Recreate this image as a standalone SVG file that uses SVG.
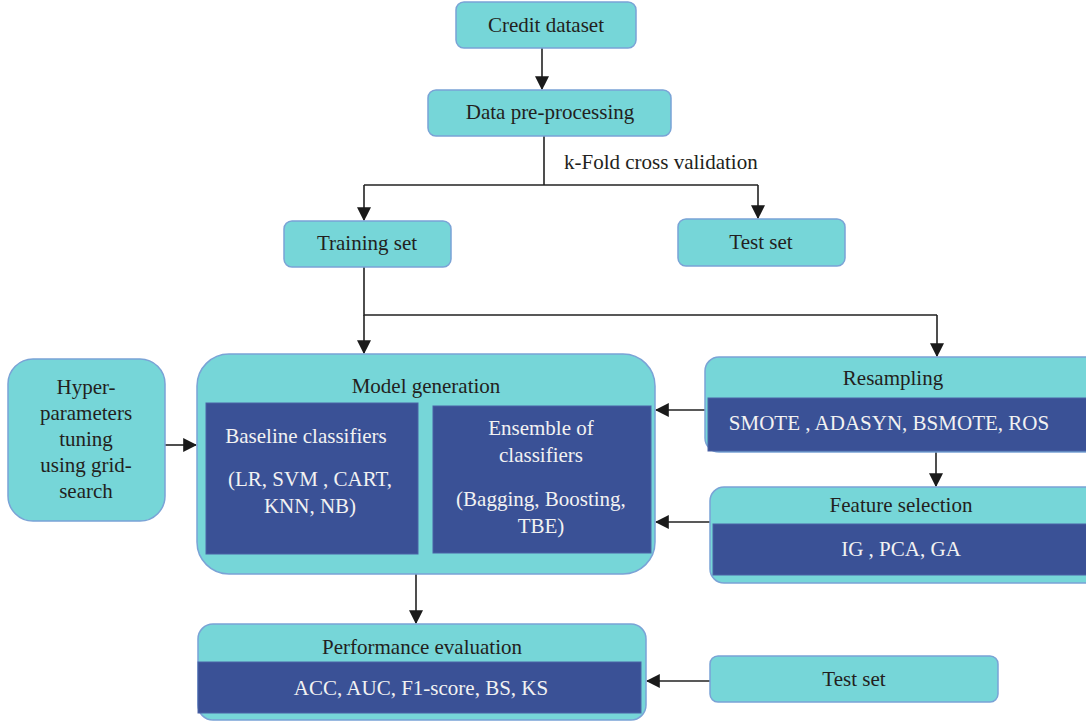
<svg xmlns="http://www.w3.org/2000/svg" width="1086" height="721" viewBox="0 0 1086 721">
<style>
.box{fill:#76d6d8;stroke:#7aa3d6;stroke-width:1.5}
.dark{fill:#3a5196;stroke:#4a62a6;stroke-width:1}
.t{font-family:"Liberation Serif","Times New Roman",serif;font-size:21px;fill:#231f20;text-anchor:middle}
.w{font-family:"Liberation Serif","Times New Roman",serif;font-size:21px;fill:#f2f2f2;text-anchor:middle}
.c{fill:none;stroke:#222;stroke-width:1.6}
</style>
<defs>
<marker id="ah" markerUnits="userSpaceOnUse" markerWidth="14" markerHeight="14" viewBox="0 0 12 12" refX="11" refY="6" orient="auto">
<path d="M0 0 L12 6 L0 12 Z" fill="#1a1a1a"/>
</marker>
</defs>
<rect width="1086" height="721" fill="#fff"/>
<g id="connectors">
<path class="c" d="M542 48 V89" marker-end="url(#ah)"/>
<path class="c" d="M544 136 V185"/>
<path class="c" d="M364 185 H758"/>
<path class="c" d="M364 185 V220" marker-end="url(#ah)"/>
<path class="c" d="M758 185 V218" marker-end="url(#ah)"/>
<path class="c" d="M364 267 V315 H937"/>
<path class="c" d="M364 315 V353" marker-end="url(#ah)"/>
<path class="c" d="M937 315 V356" marker-end="url(#ah)"/>
<path class="c" d="M165 445 H196" marker-end="url(#ah)"/>
<path class="c" d="M706 410 H656" marker-end="url(#ah)"/>
<path class="c" d="M936 452 V486" marker-end="url(#ah)"/>
<path class="c" d="M710 522 H656" marker-end="url(#ah)"/>
<path class="c" d="M416 574 V623" marker-end="url(#ah)"/>
<path class="c" d="M710 681 H647" marker-end="url(#ah)"/>
</g>
<g id="credit-dataset">
<rect class="box" x="456" y="2" width="180" height="46" rx="8"/>
<text class="t" x="546" y="32">Credit dataset</text>
</g>
<g id="data-preprocessing">
<rect class="box" x="428" y="90" width="243" height="46" rx="8"/>
<text class="t" x="550" y="119">Data pre-processing</text>
</g>
<g id="kfold-label">
<text class="t" x="564" y="169" style="text-anchor:start">k-Fold cross validation</text>
</g>
<g id="training-set">
<rect class="box" x="284" y="221" width="167" height="46" rx="8"/>
<text class="t" x="367" y="250">Training set</text>
</g>
<g id="test-set-top">
<rect class="box" x="678" y="219" width="167" height="47" rx="8"/>
<text class="t" x="761" y="249">Test set</text>
</g>
<g id="hyperparameters">
<rect class="box" x="8" y="359" width="157" height="162" rx="25"/>
<text class="t" x="86" y="394">Hyper-</text>
<text class="t" x="86" y="420">parameters</text>
<text class="t" x="86" y="446">tuning</text>
<text class="t" x="86" y="472">using grid-</text>
<text class="t" x="86" y="498">search</text>
</g>
<g id="model-generation">
<rect class="box" x="197" y="354" width="458" height="220" rx="32"/>
<text class="t" x="426" y="393">Model generation</text>
<rect class="dark" x="206" y="403" width="212" height="151"/>
<text class="w" x="306" y="443">Baseline classifiers</text>
<text class="w" x="310" y="486">(LR, SVM , CART,</text>
<text class="w" x="310" y="513">KNN, NB)</text>
<rect class="dark" x="433" y="406" width="218" height="147"/>
<text class="w" x="541" y="435">Ensemble of</text>
<text class="w" x="541" y="462">classifiers</text>
<text class="w" x="541" y="506">(Bagging, Boosting,</text>
<text class="w" x="541" y="533">TBE)</text>
</g>
<g id="resampling">
<rect class="box" x="705" y="357" width="395" height="95" rx="14"/>
<text class="t" x="893" y="385">Resampling</text>
<rect class="dark" x="708" y="398" width="380" height="53"/>
<text class="w" x="889" y="430">SMOTE , ADASYN, BSMOTE, ROS</text>
</g>
<g id="feature-selection">
<rect class="box" x="710" y="487" width="390" height="96" rx="14"/>
<text class="t" x="901" y="512">Feature selection</text>
<rect class="dark" x="713" y="524" width="375" height="51"/>
<text class="w" x="901" y="556">IG , PCA, GA</text>
</g>
<g id="performance-evaluation">
<rect class="box" x="198" y="624" width="448" height="96" rx="15"/>
<text class="t" x="422" y="654">Performance evaluation</text>
<rect class="dark" x="198" y="662" width="443" height="51"/>
<text class="w" x="421" y="695">ACC, AUC, F1-score, BS, KS</text>
</g>
<g id="test-set-bottom">
<rect class="box" x="710" y="656" width="288" height="46" rx="8"/>
<text class="t" x="854" y="686">Test set</text>
</g>
</svg>
